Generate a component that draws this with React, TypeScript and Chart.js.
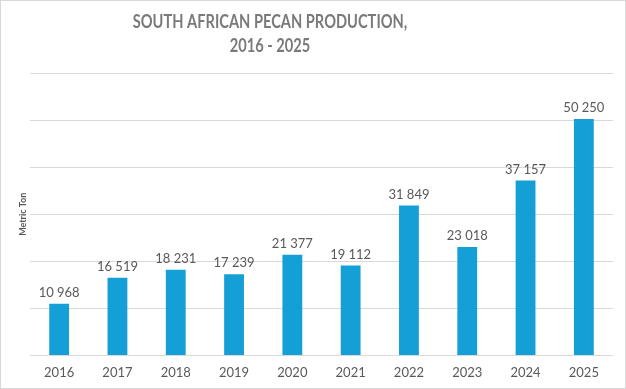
import React, { useEffect, useRef } from "react";
import { Chart, registerables } from "chart.js";

Chart.register(...registerables);

const categories = ["2016", "2017", "2018", "2019", "2020", "2021", "2022", "2023", "2024", "2025"];
const production = [10968, 16519, 18231, 17239, 21377, 19112, 31849, 23018, 37157, 50250];
const titleLines = ["SOUTH AFRICAN PECAN PRODUCTION,", "2016 - 2025"];
const yAxisTitle = "Metric Ton";

const FONT = "Lato, 'Open Sans', sans-serif";

function fmt(v: number): string {
  return String(Math.round(v)).replace(/\B(?=(\d{3})+(?!\d))/g, " ");
}

const valueLabels = {
  id: "valueLabels",
  afterDatasetsDraw(chart: any) {
    const ctx = chart.ctx;
    const meta = chart.getDatasetMeta(0);
    ctx.save();
    ctx.font = `13px ${FONT}`;
    ctx.fillStyle = "#595959";
    ctx.textAlign = "center";
    ctx.textBaseline = "alphabetic";
    meta.data.forEach((bar: any, i: number) => {
      ctx.fillText(fmt(production[i]), bar.x, bar.y - 7);
    });
    ctx.restore();
  },
};

const condensedTitle = {
  id: "condensedTitle",
  afterDraw(chart: any) {
    const ctx = chart.ctx;
    ctx.save();
    ctx.font = `bold 19px ${FONT}`;
    ctx.fillStyle = "#7a7a7a";
    ctx.textAlign = "center";
    ctx.textBaseline = "middle";
    const sx = 0.77;
    const cx = 269;
    ctx.scale(sx, 1);
    titleLines.forEach((line, i) => {
      ctx.fillText(line, cx / sx, 21 + i * 24);
    });
    ctx.restore();
  },
};

export default function App() {
  const ref = useRef<HTMLCanvasElement>(null);
  useEffect(() => {
    if (!ref.current) return;
    const chart = new Chart(ref.current, {
      type: "bar",
      data: {
        labels: categories,
        datasets: [
          {
            data: production,
            backgroundColor: "#149fd7",
            categoryPercentage: 1,
            barPercentage: 0.34,
          },
        ],
      },
      options: {
        responsive: false,
        animation: false,
        layout: { padding: { left: 11, right: 12, top: 72, bottom: 0 } },
        plugins: {
          legend: { display: false },
          tooltip: { enabled: false },
          title: { display: false },
        },
        scales: {
          x: {
            grid: { display: false, drawTicks: false },
            border: { display: false },
            ticks: { color: "#595959", font: { family: FONT, size: 13 }, padding: 10 },
            afterFit: (s: any) => {
              s.height = 32.5;
            },
          },
          y: {
            min: 0,
            max: 60000,
            ticks: { display: false, stepSize: 10000 },
            grid: { color: "#d9d9d9", drawTicks: false },
            border: { display: false },
            title: {
              display: true,
              text: yAxisTitle,
              color: "#595959",
              font: { family: FONT, size: 9, weight: "bold" },
              padding: { top: 6, bottom: 0 },
            },
            afterFit: (s: any) => {
              s.width = 18;
            },
          },
        },
      },
      plugins: [valueLabels, condensedTitle],
    });
    return () => chart.destroy();
  }, []);
  return (
    <div
      style={{
        width: 626,
        height: 389,
        boxSizing: "border-box",
        border: "1px solid #d9d9d9",
        background: "#fff",
        position: "absolute",
        left: 0,
        top: 0,
      }}
    >
      <canvas ref={ref} width={624} height={387} style={{ display: "block" }} />
    </div>
  );
}
